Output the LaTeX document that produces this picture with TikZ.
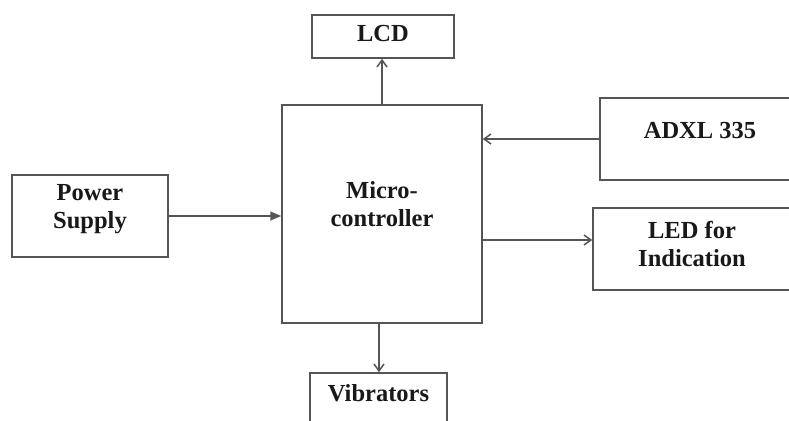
\documentclass[tikz,border=0pt]{standalone}
\usepackage{fontspec}
\setmainfont{Liberation Serif}
\usetikzlibrary{arrows.meta,positioning,calc}
\definecolor{BdLine}{RGB}{85,85,85}
\definecolor{BdText}{RGB}{25,25,25}
\tikzset{
  bd/box/.style={
    draw=BdLine,
    line width=1.5pt,
    fill=white,
    inner sep=0pt
  },
  bd/text/.style={
    align=center,
    text=BdText,
    font=\bfseries\fontsize{24.5}{28}\selectfont,
    inner sep=0pt
  },
  bd/arrow/.style={-{Straight Barb[length=7pt,width=10pt]}, line width=1.5pt, draw=BdLine},
  bd/fillarrow/.style={-{Triangle[length=11pt,width=9pt]}, line width=1.5pt, draw=BdLine}
}

\begin{document}
\begin{tikzpicture}[x=1pt,y=-1pt]
  \useasboundingbox (0,0) rectangle (789,420);
  \clip (0,0) rectangle (789,420);
  \node[bd/box,minimum width=142pt,minimum height=43pt] (lcd) at (383,36.5) {};
  \node[bd/box,minimum width=200pt,minimum height=218pt] (micro) at (382,214) {};
  \node[bd/box,minimum width=200pt,minimum height=82pt] (adxl) at (700,139) {};
  \node[bd/box,minimum width=198pt,minimum height=82pt] (led) at (692,249) {};
  \node[bd/box,minimum width=156pt,minimum height=82pt] (power) at (90,216) {};
  \node[bd/box,minimum width=137pt,minimum height=72pt] (vib) at (378.5,409) {};
  \node[bd/text] (lcd-text) at ([yshift=3pt]lcd.center) {LCD};
  \node[bd/text] (micro-text) at ([yshift=10pt]micro.center) {Micro-\\controller};
  \node[bd/text] (adxl-text) at ([yshift=8pt]adxl.center) {ADXL 335};
  \node[bd/text] (led-text) at ([yshift=5pt]led.center) {LED for\\Indication};
  \node[bd/text] (power-text) at ([yshift=7pt]power.center) {Power\\Supply};
  \node[bd/text] (vib-text) at ([yshift=16pt]vib.center) {Vibrators};
  \coordinate (led-in) at ([yshift=9pt]led.west);
  \draw[bd/arrow] (micro.north) -- (micro.north |- lcd.south);
  \draw[bd/arrow] ([xshift=-3pt]micro.south) -- ([xshift=-3pt]micro.south |- vib.north);
  \draw[bd/fillarrow] (power.east) -- (power.east -| micro.west);
  \draw[bd/arrow] (adxl.west) -- (adxl.west -| micro.east);
  \draw[bd/arrow] (micro.east |- led-in) -- (led-in);
\end{tikzpicture}
\end{document}
